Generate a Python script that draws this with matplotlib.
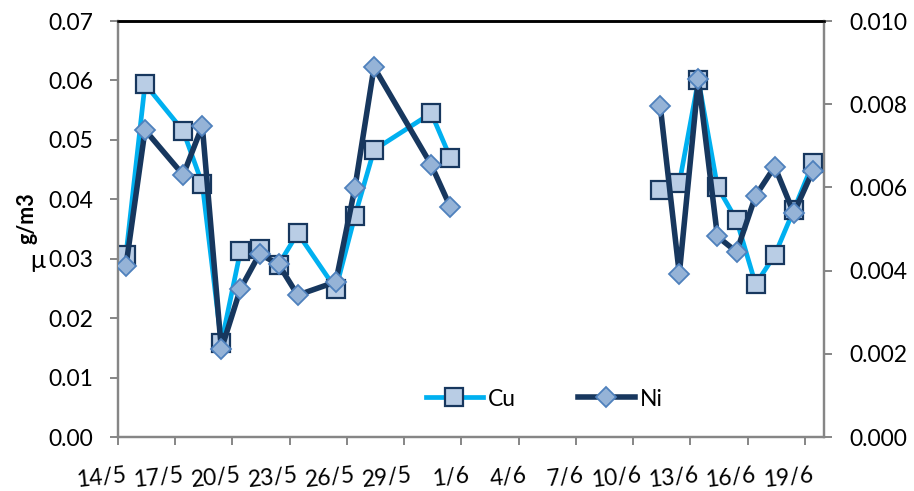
import matplotlib
matplotlib.use("Agg")
import matplotlib.pyplot as plt
from matplotlib.transforms import ScaledTranslation
import numpy as np
import pandas as pd

plt.rcParams['font.family'] = ['Lato', 'DejaVu Sans']

YEAR = 2013

# Sampling days (day/month); the empty entry on 1/6 breaks the line
dates = ["14/5", "15/5", "17/5", "18/5", "19/5", "20/5", "21/5", "22/5", "23/5",
         "25/5", "26/5", "27/5", "30/5", "31/5", "1/6",
         "11/6", "12/6", "13/6", "14/6", "15/6", "16/6", "17/6", "18/6", "19/6"]

cu = [0.0306, 0.0594, 0.0515, 0.0426, 0.0158, 0.0313, 0.0316, 0.0290, 0.0343,
      0.0249, 0.0372, 0.0483, 0.0545, 0.0470, np.nan,
      0.0416, 0.0427, 0.0601, 0.0421, 0.0365, 0.0257, 0.0306, 0.0382, 0.0461]

ni = [0.00411, 0.00738, 0.00630, 0.00748, 0.00211, 0.00356, 0.00440, 0.00415, 0.00341,
      0.00373, 0.00599, 0.00889, 0.00654, 0.00553, np.nan,
      0.00796, 0.00392, 0.00860, 0.00482, 0.00445, 0.00580, 0.00650, 0.00538, 0.00640]

tick_labels = ["14/5", "17/5", "20/5", "23/5", "26/5", "29/5", "1/6",
               "4/6", "7/6", "10/6", "13/6", "16/6", "19/6"]

left_ticks = [0.00, 0.01, 0.02, 0.03, 0.04, 0.05, 0.06, 0.07]
right_ticks = [0.000, 0.002, 0.004, 0.006, 0.008, 0.010]


def to_dt(s):
    d, m = s.split("/")
    return pd.Timestamp(year=YEAR, month=int(m), day=int(d))


x = [to_dt(s) + pd.Timedelta(hours=10) for s in dates]
xticks = [to_dt(s) for s in tick_labels]

fig = plt.figure(figsize=(9.14, 4.91), dpi=100)
ax = fig.add_axes([118 / 914, 1 - 437 / 491, (824 - 118) / 914, (437 - 21) / 491])
ax2 = ax.twinx()

cu_line, = ax.plot(x, cu, color="#00B0F0", lw=3.4, marker="s", ms=13,
                   mfc="#B9CDE5", mec="#17375E", mew=1.6, label="Cu", zorder=3)
ni_line, = ax2.plot(x, ni, color="#17375E", lw=4.0, marker="D", ms=10,
                    mfc="#95B3D7", mec="#4F81BD", mew=1.3, label="Ni", zorder=3)

ax.set_xlim(to_dt("14/5"), to_dt("20/6"))
ax.set_ylim(0, 0.07)
ax2.set_ylim(0, 0.010)

ax.set_yticks(left_ticks)
ax.set_yticklabels([f"{v:.2f}" for v in left_ticks])
ax2.set_yticks(right_ticks)
ax2.set_yticklabels([f"{v:.3f}" for v in right_ticks])
ax.set_xticks(xticks)
ax.set_xticklabels(tick_labels)

grey = "#868686"
for a in (ax, ax2):
    for side in ("left", "right", "bottom"):
        a.spines[side].set_color(grey)
        a.spines[side].set_linewidth(1.6)
    a.spines["top"].set_color("black")
    a.spines["top"].set_linewidth(1.8)

ax.tick_params(axis="y", direction="out", length=6, width=1.4, color=grey,
               labelsize=16.5, pad=12)
ax2.tick_params(axis="y", direction="out", length=6, width=1.4, color=grey,
                labelsize=16.5, pad=12)
ax.tick_params(axis="x", direction="out", length=6, width=1.4, color=grey,
               labelsize=16.5, pad=14)

shift = ScaledTranslation(9 / 100, 0, fig.dpi_scale_trans)
for lab in ax.get_xticklabels():
    lab.set_rotation(6)
    lab.set_ha("right")
    lab.set_transform(lab.get_transform() + shift)

# Axis title: upright micro sign below the rotated unit
fig.text(27 / 914, 1 - 218 / 491, "g/m3", rotation=90, fontsize=15.5,
         fontweight="bold", ha="center", va="center")
fig.text(37.5 / 914, 1 - 261 / 491, "\u03bc", fontsize=18,
         ha="center", va="center", family=["Lato", "DejaVu Sans"])

ax2.legend(handles=[cu_line, ni_line], loc="center",
           bbox_to_anchor=(544 / 914, 1 - 399 / 491),
           bbox_transform=fig.transFigure, ncol=2, frameon=False,
           fontsize=16.5, handlelength=2.5, handletextpad=0.2, columnspacing=2.7)

fig.savefig("out.png", dpi=100)
